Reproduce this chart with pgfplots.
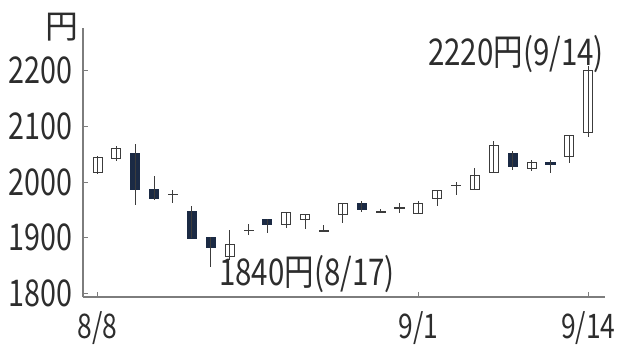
\documentclass[border=0pt]{standalone}
\usepackage{fontspec}
\setmainfont{Noto Sans CJK JP}[FakeStretch=0.78]
\newfontfamily\cjkwide{Noto Sans CJK JP}
\newfontfamily\annfont{Noto Sans CJK JP}[FakeStretch=0.8]
\usepackage{pgfplots}
\usepackage{pgfplotstable}
\pgfplotsset{compat=1.18}
\definecolor{navy}{RGB}{27,42,68}
\definecolor{axgray}{RGB}{125,125,125}
\definecolor{txt}{RGB}{45,45,45}
\definecolor{wick}{RGB}{60,60,60}

% index, open, high, low, close
\pgfplotstableread{
i o h l c
0 2018 2047 2014 2044
1 2043 2065 2038 2060
2 2052 2068 1959 1986
3 1987 2011 1968 1970
4 1977 1986 1962 1977
5 1947 1956 1899 1899
6 1900 1902 1848 1882
7 1866 1914 1860 1888
8 1913 1924 1904 1913
9 1933 1933 1908 1923
10 1923 1947 1917 1946
11 1932 1943 1915 1942
12 1912 1922 1912 1912
13 1941 1962 1926 1961
14 1962 1966 1946 1951
15 1946 1951 1946 1947
16 1953 1962 1944 1953
17 1944 1966 1944 1962
18 1971 1985 1956 1984
19 1993 2000 1977 1993
20 1986 2026 1986 2011
21 2018 2074 2018 2066
22 2052 2056 2022 2028
23 2025 2040 2020 2035
24 2035 2040 2016 2031
25 2046 2085 2035 2084
26 2089 2208 2081 2201
}\candles

\newcommand\lab{\fontsize{37}{37}\selectfont}
\newcommand\xlab{\fontsize{34}{34}\selectfont}

\begin{document}
\begin{tikzpicture}
\useasboundingbox (0bp,0bp) rectangle (619bp,349bp);
\begin{axis}[
 at={(83bp,52bp)}, anchor=south west,
 width=522bp, height=269bp, scale only axis,
 xmin=-0.768, xmax=26.89,
 ymin=1793.4, ymax=2276.7,
 axis lines=left,
 axis line style={-, axgray, line width=1.3pt},
 xtick={0,17,26}, xticklabels={8/8,9/1,9/14},
 ytick={1800,1900,2000,2100,2200},
 tick align=inside, major tick length=5bp,
 tick style={axgray, line width=1pt},
 ticklabel style={text=txt},
 yticklabel style={font=\lab, anchor=east, inner sep=0pt, xshift=-10bp},
 xticklabel style={font=\xlab, anchor=north, inner sep=0pt, yshift=-14bp},
 /pgf/number format/assume math mode=true,
 /pgf/number format/1000 sep={},
 ybar stacked, bar width=0.48,
 clip=true,
]
% invisible base up to the lower end of each body, carrying the wick
\addplot[draw=none, fill=none,
  error bars/.cd, y dir=both, y explicit, error mark=none,
  error bar style={wick, line width=1pt}]
  table[x=i, y expr={min(\thisrow{o},\thisrow{c})},
        y error plus expr={\thisrow{h}-min(\thisrow{o},\thisrow{c})},
        y error minus expr={min(\thisrow{o},\thisrow{c})-\thisrow{l}}] {\candles};
% rising bodies (white); unchanged days drawn as a thin line
\addplot[draw=wick, fill=white, line width=0.9pt]
  table[x=i, y expr={\thisrow{c}>=\thisrow{o} ? max(\thisrow{c}-\thisrow{o},0.6) : 0}] {\candles};
% falling bodies (dark)
\addplot[draw=navy, fill=navy, line width=0.9pt]
  table[x=i, y expr={max(\thisrow{o}-\thisrow{c},0)}] {\candles};
\end{axis}
\node[font=\cjkwide\fontsize{33}{33}\selectfont, text=txt] at (62bp,322bp) {円};
\node[font=\annfont\fontsize{37}{37}\selectfont, text=txt] at (516bp,295bp) {2220円(9/14)};
\node[font=\annfont\fontsize{37}{37}\selectfont, text=txt] at (307bp,75bp) {1840円(8/17)};
\end{tikzpicture}
\end{document}
